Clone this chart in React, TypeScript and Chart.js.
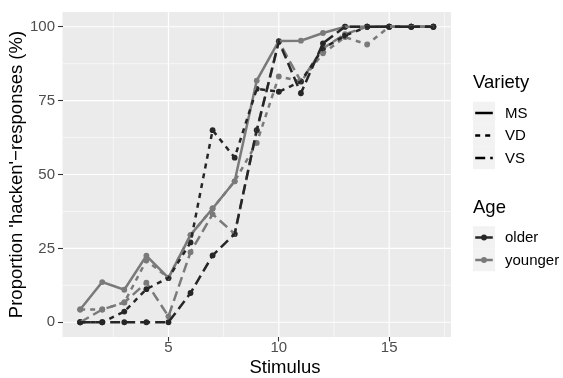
import React, { useEffect, useRef } from "react";
import { Chart, registerables } from "chart.js";

Chart.register(...registerables);

const stimulus = [1, 2, 3, 4, 5, 6, 7, 8, 9, 10, 11, 12, 13, 14, 15, 16, 17];
const msYounger = [4.3, 13.6, 11.0, 22.5, 15.0, 29.5, 38.5, 47.7, 81.8, 95.2, 95.3, 97.9, 100, 100, 100, 100, 100];
const vdOlder = [0, 0, 3.6, 11.2, 15.0, 27.0, 65.0, 55.7, 79.0, 78.0, 81.5, 92.7, 97.0, 100, 100, 100, 100];
const vsOlder = [0, 0, 0, 0, 0, 9.9, 22.6, 29.9, 65.0, 95.0, 77.5, 94.4, 100, 100, 100, 100, 100];
const vdYounger = [4.3, 4.3, 6.7, 20.9, 15.0, 29.5, 38.5, 47.7, 60.7, 83.2, 81.5, 91.0, 96.5, 94.0, 100, 100, 100];
const vsYounger = [0, 4.3, 6.7, 13.4, 2.0, 23.7, 36.6, 29.9, 65.0, 95.0, 81.5, 92.7, 97.5, 100, 100, 100, 100];

const xTicks = [5, 10, 15];
const xMinor = [2.5, 7.5, 12.5, 17.5];
const yTicks = [0, 25, 50, 75, 100];
const yMinor = [12.5, 37.5, 62.5, 87.5];
const varietyLabels = ["MS", "VD", "VS"];
const ageLabels = ["older", "younger"];
const xTitle = "Stimulus";
const yTitle = "Proportion 'hacken'\u2212responses (%)";

const FONT = "'Liberation Sans', Arial, Helvetica, sans-serif";
const OLDER = "#262626";
const YOUNGER = "#7a7a7a";
const LW = 2.5;
const DASHES: Record<string, number[]> = { MS: [], VD: [5, 5], VS: [10, 5] };
const PR = 2.9;

const toPts = (arr: number[]) => arr.map((v, i) => ({ x: stimulus[i], y: v }));

const series = [
  { variety: "VD", age: "older", data: vdOlder },
  { variety: "VS", age: "older", data: vsOlder },
  { variety: "MS", age: "younger", data: msYounger },
  { variety: "VD", age: "younger", data: vdYounger },
  { variety: "VS", age: "younger", data: vsYounger },
];

const panelPlugin = {
  id: "panelBg",
  beforeDraw(chart: any) {
    const { ctx, chartArea, scales } = chart;
    const { left, top, right, bottom } = chartArea;
    const x = scales.x;
    const y = scales.y;
    ctx.save();
    ctx.fillStyle = "#EBEBEB";
    ctx.fillRect(left, top, right - left, bottom - top);
    ctx.strokeStyle = "#FFFFFF";
    ctx.lineWidth = 0.6;
    ctx.beginPath();
    xMinor.forEach((v) => {
      const px = x.getPixelForValue(v);
      if (px >= left && px <= right) {
        ctx.moveTo(px, top);
        ctx.lineTo(px, bottom);
      }
    });
    yMinor.forEach((v) => {
      const py = y.getPixelForValue(v);
      ctx.moveTo(left, py);
      ctx.lineTo(right, py);
    });
    ctx.stroke();
    ctx.lineWidth = 1.2;
    ctx.beginPath();
    xTicks.forEach((v) => {
      const px = x.getPixelForValue(v);
      ctx.moveTo(px, top);
      ctx.lineTo(px, bottom);
    });
    yTicks.forEach((v) => {
      const py = y.getPixelForValue(v);
      ctx.moveTo(left, py);
      ctx.lineTo(right, py);
    });
    ctx.stroke();
    ctx.restore();
  },
};

const legendPlugin = {
  id: "ggLegend",
  afterDraw(chart: any) {
    const { ctx } = chart;
    const kx = 473;
    const kw = 22;
    const kh = 22.5;
    const l0 = kx + kw * 0.1;
    const l1 = kx + kw * 0.9;
    ctx.save();
    ctx.textBaseline = "middle";
    ctx.textAlign = "center";
    ctx.fillStyle = "#000";
    ctx.font = `18.5px ${FONT}`;
    ctx.fillText(xTitle, 285, 367.5);
    ctx.textAlign = "left";
    ctx.fillText("Variety", kx, 83);
    const vY = [113, 135.5, 158];
    varietyLabels.forEach((lab, i) => {
      const cy = vY[i];
      ctx.fillStyle = "#F2F2F2";
      ctx.fillRect(kx, cy - kh / 2, kw, kh);
      ctx.strokeStyle = "#000";
      ctx.lineWidth = LW;
      ctx.lineCap = "butt";
      ctx.setLineDash(DASHES[lab]);
      ctx.beginPath();
      ctx.moveTo(l0, cy);
      ctx.lineTo(l1, cy);
      ctx.stroke();
      ctx.setLineDash([]);
      ctx.fillStyle = "#000";
      ctx.font = `15px ${FONT}`;
      ctx.fillText(lab, 505, cy + 0.5);
    });
    ctx.font = `18.5px ${FONT}`;
    ctx.fillStyle = "#000";
    ctx.fillText("Age", kx, 208);
    const aY = [237.5, 260];
    ageLabels.forEach((lab, i) => {
      const cy = aY[i];
      const col = lab === "older" ? OLDER : YOUNGER;
      ctx.fillStyle = "#F2F2F2";
      ctx.fillRect(kx, cy - kh / 2, kw, kh);
      ctx.strokeStyle = col;
      ctx.lineWidth = LW;
      ctx.beginPath();
      ctx.moveTo(l0, cy);
      ctx.lineTo(l1, cy);
      ctx.stroke();
      ctx.fillStyle = col;
      ctx.beginPath();
      ctx.arc(kx + kw / 2, cy, PR, 0, Math.PI * 2);
      ctx.fill();
      ctx.fillStyle = "#000";
      ctx.font = `15px ${FONT}`;
      ctx.fillText(lab, 505, cy + 0.5);
    });
    ctx.restore();
  },
};

export default function App() {
  const ref = useRef<HTMLCanvasElement | null>(null);
  useEffect(() => {
    if (!ref.current) return;
    const lineSets = series.map((s) => ({
      type: "line" as const,
      label: `${s.variety} ${s.age}`,
      data: toPts(s.data),
      borderColor: s.age === "older" ? OLDER : YOUNGER,
      backgroundColor: s.age === "older" ? OLDER : YOUNGER,
      borderWidth: LW,
      borderDash: DASHES[s.variety],
      borderCapStyle: "butt" as const,
      pointRadius: 0,
      pointHoverRadius: 0,
      fill: false,
      tension: 0,
    }));
    const pointSets = series.map((s) => ({
      type: "line" as const,
      label: `${s.variety} ${s.age} pts`,
      data: toPts(s.data),
      showLine: false,
      borderColor: s.age === "older" ? OLDER : YOUNGER,
      pointBackgroundColor: s.age === "older" ? OLDER : YOUNGER,
      pointBorderWidth: 0,
      pointRadius: PR,
      fill: false,
    }));
    const chart = new Chart(ref.current, {
      type: "line",
      data: { datasets: [...lineSets, ...pointSets] as any },
      options: {
        animation: false,
        responsive: false,
        devicePixelRatio: 1,
        layout: { padding: { top: 10, right: 112, bottom: 0, left: 0 } },
        plugins: { legend: { display: false }, tooltip: { enabled: false } },
        scales: {
          x: {
            type: "linear",
            min: 0.2,
            max: 17.8,
            afterBuildTicks: (s: any) => {
              s.ticks = xTicks.map((v) => ({ value: v }));
            },
            afterFit: (s: any) => {
              s.height = 41;
            },
            grid: {
              display: true,
              drawOnChartArea: false,
              drawTicks: true,
              tickLength: 4.5,
              tickColor: "#333333",
              tickWidth: 1.1,
            },
            border: { display: false },
            ticks: {
              color: "#4D4D4D",
              font: { family: FONT, size: 15, lineHeight: 1 },
              padding: -1.5,
              maxRotation: 0,
              autoSkip: false,
            },
            title: { display: false },
          },
          y: {
            type: "linear",
            min: -5,
            max: 105,
            afterBuildTicks: (s: any) => {
              s.ticks = yTicks.map((v) => ({ value: v }));
            },
            afterFit: (s: any) => {
              s.width = 62.5;
            },
            grid: {
              display: true,
              drawOnChartArea: false,
              drawTicks: true,
              tickLength: 4.5,
              tickColor: "#333333",
              tickWidth: 1.1,
            },
            border: { display: false },
            ticks: {
              color: "#4D4D4D",
              font: { family: FONT, size: 15 },
              padding: 3,
              autoSkip: false,
            },
            title: {
              display: true,
              text: yTitle,
              color: "#000",
              font: { family: FONT, size: 18.5, lineHeight: 1 },
              padding: { top: 8, bottom: 0 },
            },
          },
        },
      },
      plugins: [panelPlugin, legendPlugin],
    });
    return () => chart.destroy();
  }, []);
  return (
    <div style={{ position: "fixed", left: 0, top: 0, width: 563, height: 378, background: "#fff" }}>
      <canvas ref={ref} width={563} height={378} style={{ width: 563, height: 378, display: "block" }} />
    </div>
  );
}
